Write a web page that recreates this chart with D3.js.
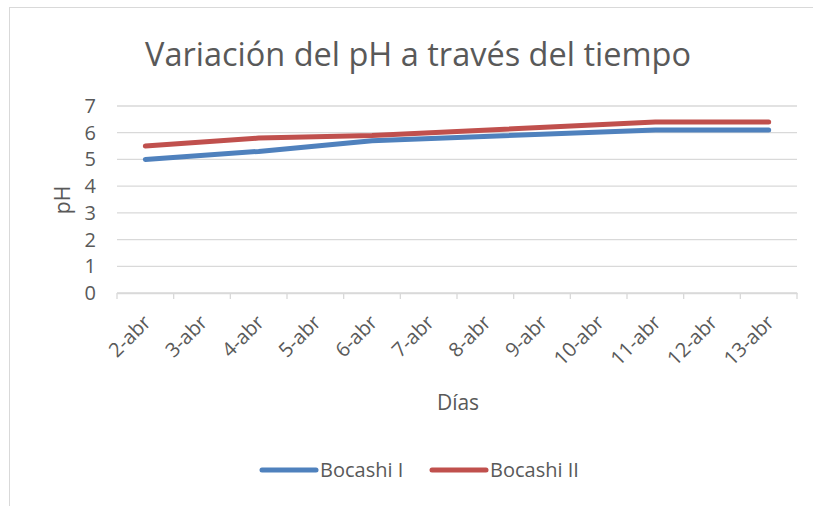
<!DOCTYPE html>
<html>
<head>
<meta charset="utf-8">
<script src="https://cdn.jsdelivr.net/npm/d3@7"></script>
<style>
  body { margin: 0; background: #fff; }
  text { font-family: "Open Sans", "Noto Sans", sans-serif; fill: #595959; }
</style>
</head>
<body>
<svg id="chart"></svg>
<script>
// Days on the x axis
const days = ['2-abr', '3-abr', '4-abr', '5-abr', '6-abr', '7-abr', '8-abr', '9-abr', '10-abr', '11-abr', '12-abr', '13-abr']

// pH readings (null = no reading that day, line is connected across)
const bocashiI = [5.0, null, 5.3, null, 5.7, null, null, null, null, 6.1, null, 6.1]
const bocashiII = [5.5, null, 5.8, null, 5.9, null, null, null, null, 6.4, null, 6.4]

const yTicks = [0, 1, 2, 3, 4, 5, 6, 7]

const series = [
  { name: 'Bocashi I', values: bocashiI, color: '#4f81bd' },
  { name: 'Bocashi II', values: bocashiII, color: '#c0504d' }
]

const W = 813
const H = 506

// plot area
const plot = { left: 117, right: 797, top: 106, bottom: 293 }

const svg = d3.select('#chart')
  .attr('width', W)
  .attr('height', H)

// chart border
svg.append('rect')
  .attr('x', 9.5)
  .attr('y', 7.5)
  .attr('width', W + 10)
  .attr('height', H + 10)
  .attr('fill', 'none')
  .attr('stroke', '#d9d9d9')

const xScale = d3.scaleBand()
  .domain(days)
  .range([plot.left, plot.right])

const yScale = d3.scaleLinear()
  .domain([0, 7])
  .range([plot.bottom, plot.top])

// gridlines
svg.append('g')
  .selectAll('line')
  .data(yTicks)
  .join('line')
  .attr('x1', plot.left)
  .attr('x2', plot.right)
  .attr('y1', d => yScale(d))
  .attr('y2', d => yScale(d))
  .attr('stroke', '#d9d9d9')
  .attr('stroke-width', 1.3)

// y tick labels
svg.append('g')
  .selectAll('text')
  .data(yTicks)
  .join('text')
  .attr('x', 96)
  .attr('y', d => yScale(d) + 7)
  .attr('text-anchor', 'end')
  .attr('font-size', 20)
  .text(d => d)

// x axis
const xAxis = d3.axisBottom(xScale)
  .tickSize(6)
  .tickFormat('')
  .tickSizeOuter(0)

const xg = svg.append('g')
  .attr('transform', `translate(0, ${plot.bottom})`)
  .call(xAxis)

xg.select('.domain').attr('stroke', '#d9d9d9').attr('stroke-width', 1.3)
// ticks sit on the band edges, not the centres
xg.selectAll('.tick').remove()
xg.selectAll('.edge')
  .data(d3.range(days.length + 1))
  .join('line')
  .attr('class', 'edge')
  .attr('x1', i => plot.left + i * xScale.step())
  .attr('x2', i => plot.left + i * xScale.step())
  .attr('y1', 0)
  .attr('y2', 6)
  .attr('stroke', '#d9d9d9')
  .attr('stroke-width', 1.3)

// rotated day labels
svg.append('g')
  .selectAll('text')
  .data(days)
  .join('text')
  .attr('text-anchor', 'end')
  .attr('font-size', 20)
  .attr('transform', d => `translate(${xScale(d) + xScale.bandwidth() / 2 - 4}, ${plot.bottom + 20}) rotate(-45)`)
  .attr('dy', '0.75em')
  .text(d => d)

// lines
const line = d3.line()
  .x(d => xScale(d.day) + xScale.bandwidth() / 2)
  .y(d => yScale(d.v))

series.forEach(s => {
  const pts = days.map((day, i) => ({ day, v: s.values[i] })).filter(d => d.v != null)
  svg.append('path')
    .datum(pts)
    .attr('d', line)
    .attr('fill', 'none')
    .attr('stroke', s.color)
    .attr('stroke-width', 5)
    .attr('stroke-linecap', 'round')
    .attr('stroke-linejoin', 'round')
})

// title
svg.append('text')
  .attr('x', 418)
  .attr('y', 66)
  .attr('text-anchor', 'middle')
  .attr('font-size', 32.5)
  .text('Variación del pH a través del tiempo')

// axis titles
svg.append('text')
  .attr('transform', `translate(70, 200) rotate(-90)`)
  .attr('text-anchor', 'middle')
  .attr('font-size', 21)
  .text('pH')

svg.append('text')
  .attr('x', 458)
  .attr('y', 410)
  .attr('text-anchor', 'middle')
  .attr('font-size', 21)
  .text('Días')

// legend
const legendX = [262, 432]
const legend = svg.append('g')
  .selectAll('g')
  .data(series)
  .join('g')
  .attr('transform', (d, i) => `translate(${legendX[i]}, 470)`)

legend.append('line')
  .attr('x1', 0)
  .attr('x2', 54)
  .attr('stroke', d => d.color)
  .attr('stroke-width', 5)
  .attr('stroke-linecap', 'round')

legend.append('text')
  .attr('x', 58)
  .attr('y', 7)
  .attr('font-size', 20)
  .text(d => d.name)
</script>
</body>
</html>
